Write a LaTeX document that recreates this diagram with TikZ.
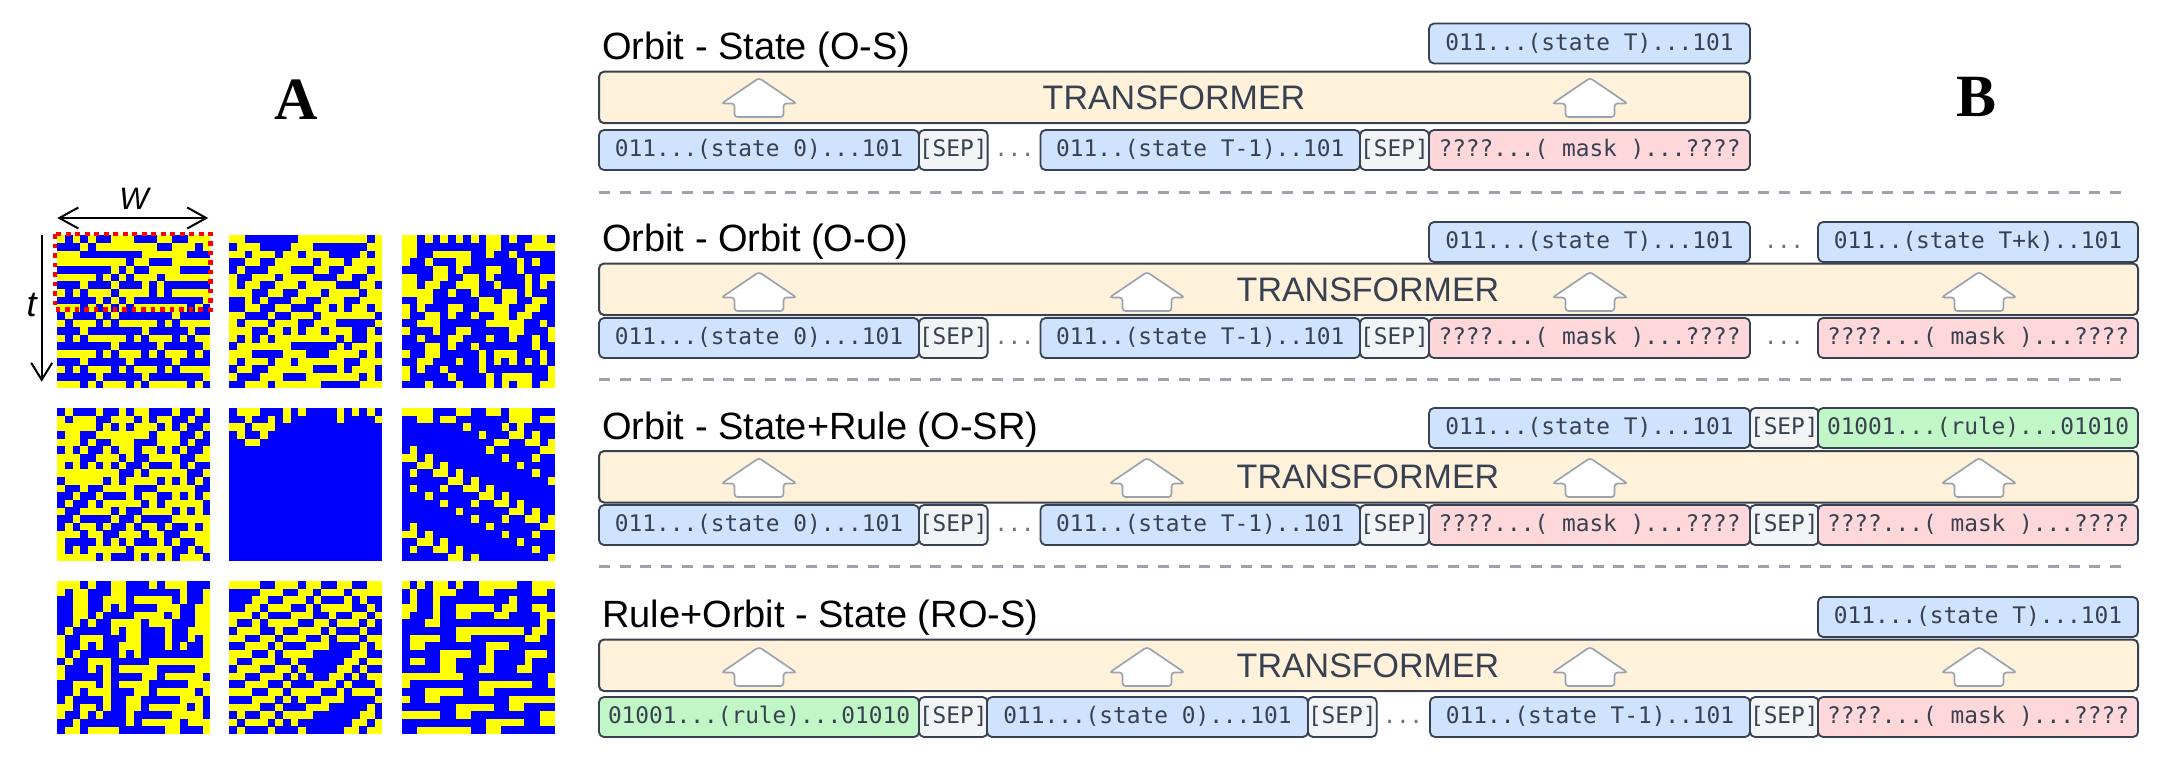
\documentclass[tikz,border=0pt]{standalone}
\usepackage{fontspec}
\setmainfont{Liberation Sans}
\newfontfamily\monof{DejaVu Sans Mono}
\newfontfamily\serifb{Liberation Serif}
\usetikzlibrary{arrows.meta}
\definecolor{cablue}{HTML}{0000FF}
\definecolor{cayellow}{HTML}{FFFF00}
\definecolor{inkd}{HTML}{374151}
\definecolor{edged}{HTML}{374151}
\definecolor{greyd}{HTML}{9CA3AF}
\definecolor{dotsc}{HTML}{6B7280}
\definecolor{statec}{HTML}{CFE3FE}
\definecolor{sepc}{HTML}{F3F4F6}
\definecolor{maskc}{HTML}{FED7DA}
\definecolor{rulec}{HTML}{C1F6C6}
\definecolor{transc}{HTML}{FFF1DA}
\tikzset{
  tokenbox/.style={draw=edged,line width=1.8pt,rounded corners=5pt,inner sep=0pt,outer sep=0pt,anchor=north west,
    minimum height=40pt,text height=17pt,text depth=4pt,text=inkd,font=\monof\fontsize{22.8}{24}\selectfont},
  statebox/.style={tokenbox,fill=statec},
  sepbox/.style={tokenbox,fill=sepc},
  maskbox/.style={tokenbox,fill=maskc},
  rulebox/.style={tokenbox,fill=rulec},
  transbox/.style={draw=edged,line width=2pt,rounded corners=5pt,fill=transc,inner sep=0pt,outer sep=0pt,anchor=north west,minimum height=51.5pt},
  translabel/.style={text=inkd,font=\fontsize{34}{36}\selectfont,inner sep=0pt,anchor=center},
  titlelabel/.style={text=black,font=\fontsize{38}{40}\selectfont,inner sep=0pt,anchor=base west},
  dotslabel/.style={text=dotsc,font=\monof\fontsize{22}{24}\selectfont,inner sep=0pt,anchor=base},
  upshape/.style={draw=greyd,fill=white,line width=1.7pt,rounded corners=3pt},
  sepline/.style={draw=greyd,line width=2.6pt,dash pattern=on 11pt off 9.7pt},
  panelletter/.style={text=black,font=\serifb\bfseries\fontsize{60}{62}\selectfont,inner sep=0pt,anchor=center},
  axisarrow/.style={draw=black,line width=2pt},
  axislabel/.style={text=black,inner sep=0pt,anchor=center},
}
\newcount\gi \newcount\gj
\def\gx{0}\def\gy{0}
\def\scanrow#1{\ifx#1\relax\else
  \if#1B\fill[cablue] ({\gx+\the\gi*7.65},{\gy+\the\gj*7.65}) rectangle ++(7.8,7.8);\fi
  \global\advance\gi by 1 \expandafter\scanrow\fi}
\newcommand\cagrid[3]{\def\gx{#1}\def\gy{#2}%
  \fill[cayellow] (#1,#2) rectangle ++(153,153);%
  \global\gj=0
  \foreach \r in {#3}{\global\gi=0 \expandafter\scanrow\r\relax \global\advance\gj by 1 }%
  \fill[white] (#1+153,#2-1) rectangle ++(1.5,155);\fill[white] (#1-1,#2+153) rectangle ++(155,1.5);}
\newcommand\tok[6]{\node[#2,minimum width={#4-#3}] (#1) at (#3,#5) {#6};}
\newcommand\uparr[2]{\draw[upshape] (#1,#2) -- (#1+37.5,#2+25.5) -- (#1+24.5,#2+25.5) -- (#1+24.5,#2+39) -- (#1-24.5,#2+39) -- (#1-24.5,#2+25.5) -- (#1-37.5,#2+25.5) -- cycle;}
\begin{document}
\begin{tikzpicture}[x=1pt,y=-1pt]
\useasboundingbox (0,0) rectangle (2162,764);
\fill[white] (0,0) rectangle (2162,764);
% Panel A
\cagrid{57.3}{235.3}{-B-B-BB---BBB--BB---,BBB-B--------BB---B-,---BBBBBBBB------BBB,---------B--BBB-----,BBBBBBB-B-BB----BBBB,-----B-B-B---B------,BBB-BBB-BBB-B-BBBBBB,-B-B---B----B-B-----,BBBBB-B-B-BBBBBBBBB-,---B-B-B-B-------B-B,B-BBB-B-BBBBBBB-BBBB,-B---B-B-----B-B----,BBB-BBBBBBB-BBBBB-BB,-B-B-----B-B---B-B--,BBBBBBB-BBBBB-BBBBB-,-----B-B---B-B---B-B,BBB-BBBBB-BBBBB-BBBB,-B-B---B-B---B-B----,BBBBB-BBBBB-BBBBBBB-,---B-B---B-B-----B-B}
\cagrid{229.3}{235.3}{--BBBBBBB---------B-,B---BBBB---BBBBBBB--,--B---B--B---BBBB-B-,BB--BB-----B---B----,B-BBB---BBB--BB---B-,-BB---B----BBB--BB--,-B--BB---B----BBB--B,---BB--BB---B----B--,BB-B-BBB--BB---BB---,BB--BB--BBB--B-B--B-,--BBB-BB---B-------B,-B---B---BB---BBBBB-,---BB--B-B--B---BB-B,-B-B-B--------B-BB--,B-------BBBBBB-B---B,---BBBB---BBB----B-B,-B---B--B------BB---,B--BB------BBB-B---B,-BBB---BBB-------B-B,BB---B------BBBBB---}
\cagrid{402}{235.3}{--B-B-B-B-B--B-BB--B,--BBBBBBBBB--BBB----,--BB-----BB-BB-BBBBB,-BB-BBB--BBBBBB-B-BB,BBBB--B-BBB--BB-BBBB,--BB--BB--B-BBBB-B--,--B--BB---BB-BBB-B-B,----BB-BB-BBB--B-BBB,BB--BBBBBB--B--BB--B,-B-BBB--BB----BB--BB,-BB--B-BB-BB--B--BBB,BB---BBBBBB-----BB-B,-BBB-BB--BBBBB--BBB-,BB-BBB--BBB-BB-BB-B-,BBB--B-BB-BBBBBBB-BB,-BB--BBBBB-B---BBB-B,BB--BBB-BB-B-B-B-B-B,-B-BB-BBBB-BBBBBBBB-,-BBBBB-BBBB-B----BB-,BBB-BBB-BBB-B-B--B--}
\cagrid{57.3}{408}{B-BBB-BB-B--BBB-BB-B,-B---BB---B-B--BB-BB,-----B-B-B---B-B-BB-,B--BB-------B---BB-B,---B-BB---BBB---B-BB,B-B-BB-B--B--B-B-BB-,---BB---B-BB----BB--,-B-B-B-B-BB-BBB-B-BB,--------BB-B-----BB-,B-----B-B----B-B-B-B,-BB-BB----BBB-----BB,BB-BB-BBB-B--BB-B-B-,B-BB-B-----B-B-----B,-BB----B-BB----B-B-B,BB-BBBB-BB-BBBB-----,B-B--B-BB-B--B-BB-B-,---B--BB---B--BB----,-BBBB-B-B-BBB-B-BB--,-B-B-----B-----BB-B-,-----B-BBB-B-B-B---B}
\cagrid{229.3}{408}{B---BBB-B-BBBB-B-B-B,BB-BB-B-BBBBBB-BBBB-,--B---BBBBBBBBBBBBBB,B-BB-BBBBBBBBBBBBBBB,BB--BBBBBBBBBBBBBBBB,BBBBBBBBBBBBBBBBBBBB,BBBBBBBBBBBBBBBBBBBB,BBBBBBBBBBBBBBBBBBBB,BBBBBBBBBBBBBBBBBBBB,BBBBBBBBBBBBBBBBBBBB,BBBBBBBBBBBBBBBBBBBB,BBBBBBBBBBBBBBBBBBBB,BBBBBBBBBBBBBBBBBBBB,BBBBBBBBBBBBBBBBBBBB,BBBBBBBBBBBBBBBBBBBB,BBBBBBBBBBBBBBBBBBBB,BBBBBBBBBBBBBBBBBBBB,BBBBBBBBBBBBBBBBBBBB,BBBBBBBBBBBBBBBBBBBB,BBBBBBBBBBBBBBBBBBBB}
\cagrid{402}{408}{----BBB--BB--B---BBB,BB--B--BBBBBBB---B--,BBBBBBBB-BBBB-B-BBBB,BBBBBBBBBB-BBB--B-BB,BBBBBBBBBBBB--BB--B-,B-BBBBBBBBB-BBBBBB--,--B-BBBBBBBBB-BBB-BB,BB--B-BBBBBBBBB-BBBB,B-BB--B-BBBBBBBBB-BB,BBBBBB--B-BBBBBBBBB-,B-BBB-BB--B-BBBBBBBB,BBB-BBBBBB--B-BBBBBB,BBBBB-BBB-BB--B-BBBB,BBBBBBB-BBBBBB--B-BB,BBBBBBBBB-BBB-BB--B-,B-BBBBBBBBB-BBBBBB--,--B-BBBBBBBBB-BBB-BB,BB--B-BBBBBBBBB-BBBB,B-BB--B-BBBBBBBBB-BB,BBBBBB--B-BBBBBBBBB-}
\cagrid{57.3}{581}{---B-BB--BBB-B---BBB,-B--BBB--BBBBBBB-BB-,BB--BB---B-----B-BB-,BB--BB-B-BBBB---BB--,BB--B-BBBB----B-BB--,BB-B-BB----B---BBB--,B-BBBBB-B--BBB-BB---,-BB---BBB--BBB-BB-B-,-BB-B-BB---BBB-B-BB-,-B-BBBBB-B-BBBBBBBB-,B-BB---BBBBB--------,-BBB-B-B-----BBBBB--,-BBBBB-BBBB--B-----B,BB---B-B----BBBBB---,BB-B---BBB--B-----B-,B-BBBB-BB--BBBBB---B,--B--B-BB--B-----B-B,-BB-B-BBB-BBBBB----B,BB-BBBBBB-B-----B---,B--B----BBBBBB--BBB-}
\cagrid{229.3}{581}{----BB---B--BB--BB--,BBBB---BB--B---B----,BBB--BB---B-BBB-B-BB,BB--B---BB-B----BB-B,---B-BBB---BB-BB--B-,-BB-B----BB--B---B-B,B---BB-BB---B-BBB-BB,--BB--B---BB-B---B--,BB---B-BBB---BBBB-B-,---BB-B----BBBBB--BB,-BB---BB-BBBBBB--B--,B---BB--B-BBBB--B-BB,--BB---B-B-BB--B-B--,BB---BB-BBB---B-BBB-,---BB--B----BB-B---B,BBB---B-B-BB---BBBB-,----BB-BBB---BBBBB-B,B-BB--B----BBBBBB--B,-B---B-B-BBBBBBB--B-,B-BBB-BBB-BBBBB--B--}
\cagrid{402}{581}{-B-B--B-BB-----BB---,B-BB---BBB--BBBBB--B,B-BB-BBBBBBBBB-BBBBB,--BB-BB-----B--BB--B,-BBB-BB--BBB--BBBB--,BBB--BBBBBBBBBBBBB-B,BBBBBBB---------B--B,B----BB--BBBBBBB--BB,B--BBBBBBBB---BBBBBB,BBBBB----BB-BBBB---B,B--BB--BBBB-BBBB-BBB,BBBBB--BBB--BBB--BBB,--------BBBBBBBBBBB-,-BBBBBBBBB-------BB-,BBB-----BB--BBBBBBBB,-BB--BBBBBBBBB------,BBBBBBB-----BB--BBBB,-----BB--BBBBBBBBB--,BBBBBBBBBBB-----BB--,BB-------BB--BBBBBBB}
% Red window on the first grid
\draw[draw=red,line width=4.6pt,dash pattern=on 4.6pt off 4.9pt] (55,234) rectangle (210.7,309.3);
% Axis arrows
\coordinate (wL) at (57.3,218); \coordinate (wR) at (208.3,218);
\coordinate (tT) at (41.7,235); \coordinate (tB) at (41.7,381.7);
\draw[axisarrow,{Straight Barb[length=19pt,width=21pt]}-{Straight Barb[length=19pt,width=21pt]}] (wL) -- (wR);
\draw[axisarrow,-{Straight Barb[length=17pt,width=21pt]}] (tT) -- (tB);
\node[axislabel,font=\itshape\fontsize{31}{33}\selectfont] (wlabel) at (134,198.5) {W};
\node[axislabel,font=\itshape\fontsize{36}{38}\selectfont] (tlabel) at (31.7,305) {t};
\node[panelletter] (panelA) at (296,100) {A};
\node[panelletter] (panelB) at (1976,97) {B};
% Row 1
\node[titlelabel] (title1) at (602,59.5) {Orbit - State (O-S)};
\tok{r1out}{statebox}{1429}{1750}{23.5}{011...(state T)...101}
\tok{r1trans}{transbox}{599}{1750}{71.7}{}
\node[translabel] (r1label) at (1174,97.5) {TRANSFORMER};
\uparr{759}{78}\uparr{1590}{78}
\tok{r1a}{statebox}{599}{919}{130}{011...(state 0)...101}
\tok{r1b}{sepbox}{919}{987}{130}{[SEP]}
\node[dotslabel] (r1dots) at (1014.5,156) {...};
\tok{r1c}{statebox}{1040.5}{1360}{130}{011..(state T-1)..101}
\tok{r1d}{sepbox}{1360}{1429}{130}{[SEP]}
\tok{r1e}{maskbox}{1429}{1750}{130}{????...( mask )...????}
\coordinate (d1a) at (599,192.3); \coordinate (d1b) at (2127,192.3);
\draw[sepline] (d1a) -- (d1b);
% Row 2
\node[titlelabel] (title2) at (602,251) {Orbit - Orbit (O-O)};
\tok{r2out}{statebox}{1429}{1750}{222}{011...(state T)...101}
\node[dotslabel] (r2dotsa) at (1784,248) {...};
\tok{r2outb}{statebox}{1818}{2138}{222}{011..(state T+k)..101}
\tok{r2trans}{transbox}{599}{2138}{263.5}{}
\node[translabel] (r2label) at (1368,290) {TRANSFORMER};
\uparr{759}{272}\uparr{1147}{272}\uparr{1590}{272}\uparr{1979}{272}
\tok{r2a}{statebox}{599}{919}{318}{011...(state 0)...101}
\tok{r2b}{sepbox}{919}{987}{318}{[SEP]}
\node[dotslabel] (r2dots) at (1014.5,344) {...};
\tok{r2c}{statebox}{1040.5}{1360}{318}{011..(state T-1)..101}
\tok{r2d}{sepbox}{1360}{1429}{318}{[SEP]}
\tok{r2e}{maskbox}{1429}{1750}{318}{????...( mask )...????}
\node[dotslabel] (r2dotsb) at (1784,344) {...};
\tok{r2f}{maskbox}{1818}{2138}{318}{????...( mask )...????}
\coordinate (d2a) at (599,379.3); \coordinate (d2b) at (2127,379.3);
\draw[sepline] (d2a) -- (d2b);
% Row 3
\node[titlelabel] (title3) at (602,439) {Orbit - State+Rule (O-SR)};
\tok{r3out}{statebox}{1429}{1750}{408}{011...(state T)...101}
\tok{r3sep}{sepbox}{1750}{1818}{408}{[SEP]}
\tok{r3rule}{rulebox}{1818}{2138}{408}{01001...(rule)...01010}
\tok{r3trans}{transbox}{599}{2138}{451}{}
\node[translabel] (r3label) at (1368,477) {TRANSFORMER};
\uparr{759}{458}\uparr{1147}{458}\uparr{1590}{458}\uparr{1979}{458}
\tok{r3a}{statebox}{599}{919}{505}{011...(state 0)...101}
\tok{r3b}{sepbox}{919}{987}{505}{[SEP]}
\node[dotslabel] (r3dots) at (1014.5,531) {...};
\tok{r3c}{statebox}{1040.5}{1360}{505}{011..(state T-1)..101}
\tok{r3d}{sepbox}{1360}{1429}{505}{[SEP]}
\tok{r3e}{maskbox}{1429}{1750}{505}{????...( mask )...????}
\tok{r3f}{sepbox}{1750}{1818}{505}{[SEP]}
\tok{r3g}{maskbox}{1818}{2138}{505}{????...( mask )...????}
\coordinate (d3a) at (599,566.7); \coordinate (d3b) at (2127,566.7);
\draw[sepline] (d3a) -- (d3b);
% Row 4
\node[titlelabel] (title4) at (602,627) {Rule+Orbit - State (RO-S)};
\tok{r4out}{statebox}{1818}{2138}{597}{011...(state T)...101}
\tok{r4trans}{transbox}{599}{2138}{639.5}{}
\node[translabel] (r4label) at (1368,666) {TRANSFORMER};
\uparr{759}{647}\uparr{1147}{647}\uparr{1590}{647}\uparr{1979}{647}
\tok{r4a}{rulebox}{599}{919}{697}{01001...(rule)...01010}
\tok{r4b}{sepbox}{919}{987}{697}{[SEP]}
\tok{r4c}{statebox}{987}{1308}{697}{011...(state 0)...101}
\tok{r4d}{sepbox}{1308}{1376}{697}{[SEP]}
\node[dotslabel] (r4dots) at (1403,723) {...};
\tok{r4e}{statebox}{1430}{1750}{697}{011..(state T-1)..101}
\tok{r4f}{sepbox}{1750}{1818}{697}{[SEP]}
\tok{r4g}{maskbox}{1818}{2138}{697}{????...( mask )...????}
\end{tikzpicture}
\end{document}
